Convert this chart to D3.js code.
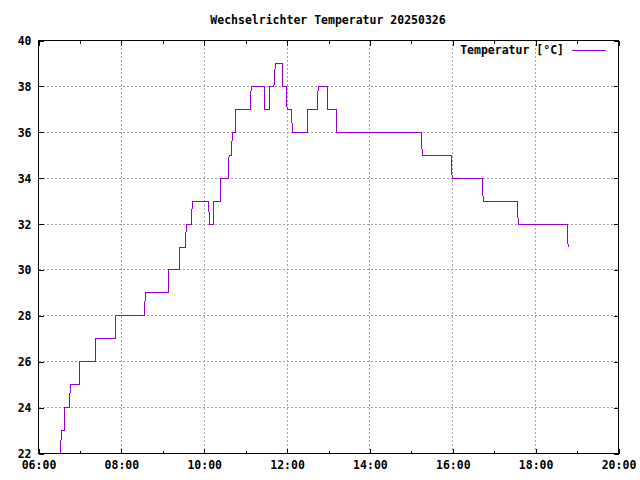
<!DOCTYPE html>
<html>
<head>
<meta charset="utf-8">
<script src="https://cdn.jsdelivr.net/npm/d3@7"></script>
<style>
  body { margin: 0; background: #fff; }
  svg { display: block; }
  text { font-family: "DejaVu Sans Mono", monospace; font-weight: bold; font-size: 11.5px; fill: #000; }
</style>
</head>
<body>
<script>

// Messwerte (Uhrzeit, Temperatur)
var zeiten = ["06:32","06:33","06:37","06:38","06:45","06:46","06:59","07:00","07:22","07:22",
              "07:52","07:52","08:33","08:35","09:08","09:09","09:24","09:24","09:33","09:34",
              "09:41","09:43","10:06","10:08","10:13","10:14","10:23","10:23","10:35","10:36",
              "10:39","10:41","10:46","10:46","11:07","11:08","11:27","11:27","11:34","11:34",
              "11:41","11:43","11:53","11:54","11:59","12:00","12:06","12:08","12:29","12:29",
              "12:44","12:45","12:58","12:58","13:11","13:11","15:14","15:16","15:58","15:59",
              "16:43","16:44","17:33","17:35","18:46","18:47"];
var temperaturen = [22,23,23,24,24,25,25,26,26,27,
                    27,28,28,29,29,30,30,31,31,32,
                    32,33,33,32,32,33,33,34,34,35,
                    35,36,36,37,37,38,38,37,37,38,
                    38,39,39,38,38,37,37,36,36,37,
                    37,38,38,37,37,36,36,35,35,34,
                    34,33,33,32,32,31];

var xTicks = ["06:00","08:00","10:00","12:00","14:00","16:00","18:00","20:00"];
var xMinor = ["07:00","09:00","11:00","13:00","15:00","17:00","19:00"];
var yTicks = [22,24,26,28,30,32,34,36,38,40];

var titel = "Wechselrichter Temperatur 20250326";
var legende = "Temperatur [°C]";

var width = 640, height = 480;
var parse = d3.timeParse("%H:%M");

var data = zeiten.map(function(z, i) { return {t: parse(z), v: temperaturen[i]}; });

var x = d3.scaleTime().domain([parse("06:00"), parse("20:00")]).range([38.5, 618.5]);
var y = d3.scaleLinear().domain([22, 40]).range([453.5, 40.5]);

var svg = d3.select("body").append("svg")
    .attr("width", width)
    .attr("height", height);

svg.append("rect").attr("width", width).attr("height", height).attr("fill", "#fff");

// Gitter
var grid = svg.append("g").attr("stroke", "#a0a0a0").attr("stroke-dasharray", "2,2")
    .attr("shape-rendering", "crispEdges");
grid.selectAll(".gx").data(xTicks.slice(1, -1)).enter().append("line")
    .attr("x1", function(d) { return x(parse(d)); }).attr("x2", function(d) { return x(parse(d)); })
    .attr("y1", y(22)).attr("y2", y(40));
grid.selectAll(".gy").data(yTicks.slice(1, -1)).enter().append("line")
    .attr("x1", x.range()[0]).attr("x2", x.range()[1])
    .attr("y1", function(d) { return y(d); }).attr("y2", function(d) { return y(d); });

// Achsen
var xAxis = d3.axisBottom(x).tickValues(xTicks.map(parse)).tickFormat(d3.timeFormat("%H:%M"))
    .tickSizeInner(-5).tickSizeOuter(0).tickPadding(7);
var yAxis = d3.axisLeft(y).tickValues(yTicks).tickSizeInner(-5).tickSizeOuter(0).tickPadding(7);

var gx = svg.append("g").attr("transform", "translate(0," + y(22) + ")").call(xAxis);
var gy = svg.append("g").attr("transform", "translate(" + x.range()[0] + ",0)").call(yAxis);
svg.append("g").attr("transform", "translate(0," + y(40) + ")")
    .call(d3.axisTop(x).tickValues(xTicks.map(parse)).tickFormat("").tickSizeInner(-5).tickSizeOuter(0));
svg.append("g").attr("transform", "translate(" + x.range()[1] + ",0)")
    .call(d3.axisRight(y).tickValues(yTicks).tickFormat("").tickSizeInner(-5).tickSizeOuter(0));
svg.append("g").attr("transform", "translate(0," + y(22) + ")")
    .call(d3.axisBottom(x).tickValues(xMinor.map(parse)).tickFormat("").tickSizeInner(-3).tickSizeOuter(0));
svg.append("g").attr("transform", "translate(0," + y(40) + ")")
    .call(d3.axisTop(x).tickValues(xMinor.map(parse)).tickFormat("").tickSizeInner(-3).tickSizeOuter(0));

svg.selectAll(".domain").remove();
svg.selectAll(".tick line").attr("stroke", "#000").attr("shape-rendering", "crispEdges");
svg.selectAll(".tick text").attr("font-family", null).attr("font-size", null);
gx.selectAll(".tick text").attr("dy", "0.75em");
gy.selectAll(".tick text").attr("dy", "0.35em");

svg.append("rect")
    .attr("x", x.range()[0]).attr("y", y(40))
    .attr("width", x.range()[1] - x.range()[0]).attr("height", y(22) - y(40))
    .attr("fill", "none").attr("stroke", "#000").attr("shape-rendering", "crispEdges");

// Messkurve
var line = d3.line().x(function(d) { return x(d.t); }).y(function(d) { return y(d.v); });
svg.append("path").datum(data)
    .attr("d", line)
    .attr("fill", "none")
    .attr("stroke", "#9400d3")
    .attr("stroke-width", 1)
    .attr("shape-rendering", "crispEdges");

// Titel
svg.append("text").attr("x", 328).attr("y", 24).attr("text-anchor", "middle").text(titel);

// Legende
svg.append("text").attr("x", 564).attr("y", 54).attr("text-anchor", "end").text(legende);
svg.append("line").attr("x1", 572).attr("x2", 606).attr("y1", 50.5).attr("y2", 50.5)
    .attr("stroke", "#9400d3").attr("shape-rendering", "crispEdges");

</script>
</body>
</html>
